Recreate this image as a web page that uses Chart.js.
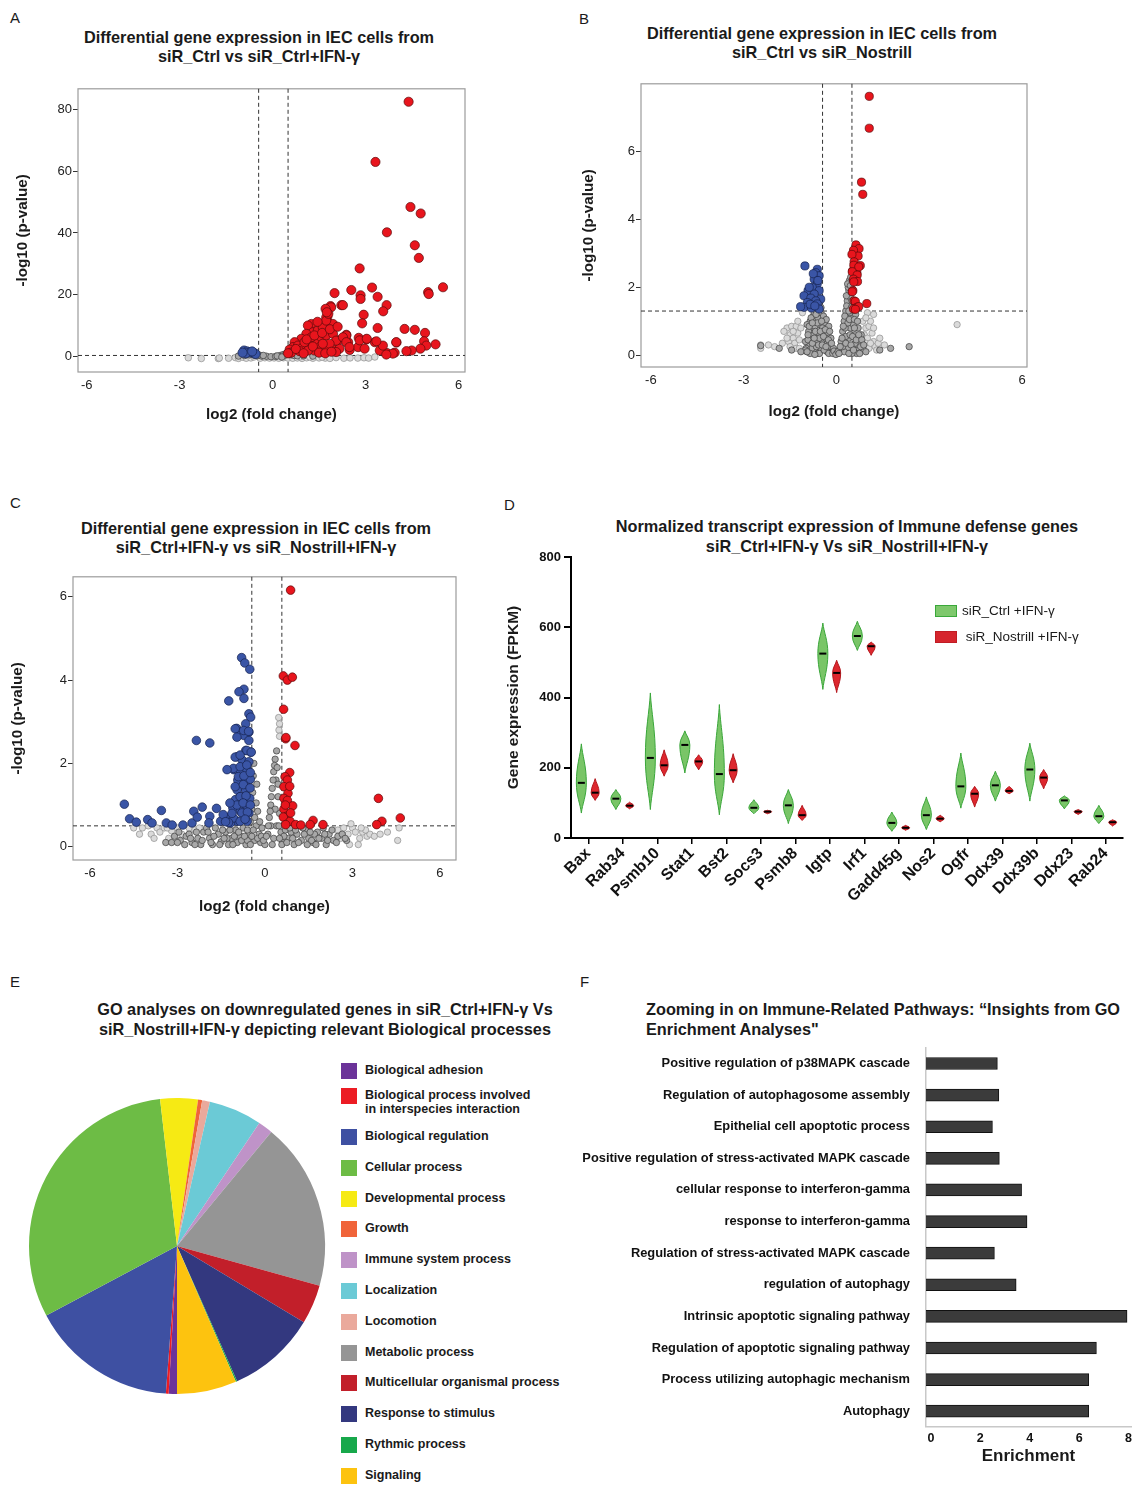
<!DOCTYPE html>
<html>
<head>
<meta charset="utf-8">
<script src="https://cdn.jsdelivr.net/npm/chart.js@4.4.0/dist/chart.umd.min.js"></script>
<style>
body { margin: 0; background: #fff; font-family: "Liberation Sans", Arial, sans-serif; color: #1a1a1a; }
#page { position: relative; width: 1137px; height: 1485px; overflow: hidden; }
canvas { position: absolute; }
.letter { position: absolute; font-size: 15px; }
.ttl { position: absolute; width: 560px; text-align: center; font-weight: bold; font-size: 16.3px; line-height: 19px; }
.big { line-height: 19.5px; }
.leg { position: absolute; font-size: 13.5px; display: flex; align-items: center; white-space: nowrap; }
.sw { display: inline-block; width: 20px; height: 10px; margin-right: 5px; border: 1.5px solid; }
.go { position: absolute; left: 341px; font-weight: bold; font-size: 12.5px; line-height: 14px; }
.go i { position: absolute; left: 0; top: 0; width: 16px; height: 16px; }
.go span { position: absolute; left: 24px; top: 0; white-space: pre; }
</style>
</head>
<body>
<div id="page">
  <div class="letter" style="left:10px;top:9px">A</div>
  <div class="letter" style="left:579px;top:10px">B</div>
  <div class="letter" style="left:10px;top:494px">C</div>
  <div class="letter" style="left:504px;top:496px">D</div>
  <div class="letter" style="left:10px;top:973px">E</div>
  <div class="letter" style="left:580px;top:973px">F</div>

  <div class="ttl" style="left:-21px;top:28px">Differential gene expression in IEC cells from<br>siR_Ctrl vs siR_Ctrl+IFN-γ</div>
  <div class="ttl" style="left:542px;top:24px">Differential gene expression in IEC cells from<br>siR_Ctrl vs siR_Nostrill</div>
  <div class="ttl" style="left:-24px;top:519px">Differential gene expression in IEC cells from<br>siR_Ctrl+IFN-γ vs siR_Nostrill+IFN-γ</div>
  <div class="ttl big" style="left:567px;top:517px">Normalized transcript expression of Immune defense genes<br>siR_Ctrl+IFN-γ Vs siR_Nostrill+IFN-γ</div>
  <div class="ttl big" style="left:45px;top:1000px">GO analyses on downregulated genes in siR_Ctrl+IFN-γ Vs<br>siR_Nostrill+IFN-γ depicting relevant Biological processes</div>
  <div class="ttl big" style="left:646px;top:1000px;text-align:left;width:490px">Zooming in on Immune-Related Pathways: “Insights from GO<br>Enrichment Analyses"</div>

  <canvas id="volA" width="480" height="350" style="left:0;top:80px"></canvas>
  <canvas id="volB" width="470" height="355" style="left:570px;top:75px"></canvas>
  <canvas id="volC" width="470" height="362" style="left:0;top:568px"></canvas>
  <canvas id="violin" width="637" height="380" style="left:500px;top:545px"></canvas>
  <canvas id="pie" width="310" height="310" style="left:22px;top:1091px"></canvas>
  <canvas id="bars" width="562" height="456" style="left:575px;top:1024px"></canvas>

  <div class="leg" style="left:935px;top:603px"><i class="sw" style="background:#7ec86c;border-color:#3aa83a"></i>siR_Ctrl +IFN-γ</div>
  <div class="leg" style="left:935px;top:629px"><i class="sw" style="background:#d6252d;border-color:#c01c24"></i>&nbsp;siR_Nostrill +IFN-γ</div>
  <div id="goLegend"></div>
</div>

<script>
// ---------- volcano plots ----------
const volcanoXTicks = [-6, -3, 0, 3, 6];
const aYTicks = [0, 20, 40, 60, 80];
const bYTicks = [0, 2, 4, 6];
const cYTicks = [0, 2, 4, 6];

// A: siR_Ctrl vs siR_Ctrl+IFN-γ
const aUp = [[4.39,82.5],[3.32,63.0],[4.45,48.4],[4.78,46.3],[3.69,40.2],[4.59,36.0],[4.72,31.9],[2.81,28.5],[5.50,22.4],[5.02,20.8],[5.04,20.2],[3.21,22.3],[2.54,21.5],[2.84,19.8],[2.84,18.6],[2.0,20.5],[3.39,19.3],[3.68,16.6],[3.57,14.6],[2.94,13.5],[2.22,16.6],[2.27,16.6],[1.87,16.3],[1.89,15.9],[1.71,15.4],[1.77,12.9],[2.89,10.7],[3.39,9.2],[4.26,8.9],[4.59,8.6],[4.92,7.6],[4.0,4.5],[4.89,4.9],[5.26,3.9],[4.96,3.5],[4.77,2.5],[4.49,1.9],[4.32,1.7],[3.69,1.1],[3.94,1.2],[3.46,1.9],[3.3,4.6],[3.03,5.5],[2.78,6.0],[2.38,7.0],[2.12,5.2],[2.0,2.1],[2.44,4.6],[2.49,2.1],[2.76,3.0],[2.81,5.2],[3.88,0.9],[3.67,0.6],[2.97,2.5],[2.16,2.5],[2.05,1.4],[2.38,6.8],[3.56,3.5],[3.35,4.9],[3.04,5.7],[3.99,4.6],
  [1.73,12.6],[1.79,11.0],[1.79,9.5],[1.95,10.5],[1.25,10.5],[1.14,10.0],[1.30,7.8],[1.09,7.3],[0.93,5.7],[0.71,4.6],[0.66,3.0],[0.55,2.2],[0.82,3.5],[0.98,3.0],[1.19,4.1],[1.41,5.1],[1.57,6.2],[1.73,6.8],[1.95,7.3],[2.05,5.1],[2.27,6.2],[2.38,4.6],[2.48,3.0],[1.52,3.0],[1.35,1.9],[1.14,1.9],[0.87,1.7],[1.73,2.2],[1.84,4.1],[1.62,4.1],[1.03,4.6],[1.25,6.2],[1.46,8.4],[1.62,9.4],[1.73,11.6],[1.8,13.8],[1.75,14.3],[1.45,11.2],[0.6,1.2],[0.75,2.4],[1.0,1.0],[1.3,3.2],[1.5,1.2],[1.7,1.0],[1.9,1.5],[0.5,1.0],[1.1,5.5],[1.35,6.8],[1.6,7.6],[1.85,8.8],[2.1,9.6]];
const aDown = [[-0.92,1.9],[-0.82,1.6],[-0.72,1.3],[-0.6,1.1],[-0.86,1.0],[-0.55,0.8],[-0.97,1.2],[-0.66,1.6]];
const aMid = [[-0.9,0.3],[-0.75,0.5],[-0.6,0.4],[-0.5,0.2],[-0.35,0.1],[-0.2,0.05],[-0.05,-0.1],[0.1,0.0],[0.25,0.3],[0.35,0.6],[0.45,0.9],[0.55,1.2],[0.6,0.5],[0.7,0.3],[0.8,0.2],[-0.45,0.5],[-0.3,0.3],[0.15,0.15],[0.4,0.4],[0.5,0.7],[1.0,0.2],[0.3,-0.2],[-1.1,0.1],[1.3,0.1]];
const aLight = [[-2.72,-0.45],[-2.3,-0.7],[-1.75,-0.7],[-1.72,-0.55],[-1.42,-0.6],[-1.2,-0.4],[-1.1,-0.65],[-0.95,-0.3],[-0.85,-0.6],[-0.7,-0.5],[-0.6,-0.2],[-0.4,-0.6],[-0.25,-0.45],[-0.1,-0.55],[0.05,-0.5],[0.2,-0.6],[0.35,-0.45],[0.5,-0.55],[0.65,-0.6],[0.8,-0.5],[0.95,-0.65],[1.1,-0.45],[1.3,-0.6],[1.5,-0.5],[1.7,-0.55],[1.85,-0.65],[2.05,-0.4],[2.3,-0.6],[2.5,-0.5],[2.75,-0.55],[2.95,-0.45],[3.1,-0.55],[3.3,-0.2],[1.2,-0.2],[0.9,-0.1],[1.6,-0.25]];

// B: siR_Ctrl vs siR_Nostrill
const bUp = [[1.06,7.63],[1.06,6.69],[0.81,5.10],[0.85,4.74],[0.63,3.25],[0.73,3.14],[0.55,3.09],[0.70,2.92],[0.50,2.97],[0.57,2.75],[0.77,2.64],[0.52,2.48],[0.66,2.43],[0.56,2.65],[0.72,2.60],[0.51,2.46],[0.67,2.36],[0.55,2.24],[0.68,2.17],[0.56,2.16],[0.53,1.90],[0.51,1.87],[0.57,1.60],[0.61,1.58],[0.98,1.52],[0.66,1.41],[0.72,1.43],[0.55,1.36],[0.61,1.35]];
const bDown = [[-1.02,2.63],[-0.62,2.53],[-0.67,2.43],[-0.56,2.34],[-0.72,2.24],[-0.62,2.11],[-0.78,1.99],[-0.92,1.90],[-0.56,1.90],[-0.72,1.80],[-1.05,1.75],[-0.83,1.68],[-0.51,1.65],[-0.67,1.60],[-0.94,1.55],[-0.62,1.51],[-1.05,1.41],[-0.81,1.39],[-0.56,1.36],[-1.16,1.43],[-0.88,2.0],[-0.75,2.4],[-0.6,2.2],[-0.85,1.5],[-0.7,1.45]];
const bMid = [[-0.95,0.1],[-0.9,0.3],[-0.85,0.55],[-0.8,0.8],[-0.85,1.0],[-0.75,1.15],[-0.7,0.15],[-0.65,0.4],[-0.6,0.65],[-0.55,0.9],[-0.6,1.1],[-0.5,1.25],[-0.5,0.2],[-0.45,0.45],[-0.4,0.7],[-0.38,0.95],[-0.42,1.15],[-0.3,0.1],[-0.3,0.35],[-0.28,0.6],[-0.25,0.85],[-0.2,0.25],[-0.18,0.5],[-0.15,0.1],[-0.1,0.2],[-0.75,0.6],[-0.7,0.85],[-0.8,0.2],[-0.9,0.7],[-0.65,0.25],[-0.55,0.5],[-0.35,0.5],[-0.45,0.8],[-0.33,1.05],[-0.6,0.05],[-0.85,0.05],[-1.0,0.4],[-0.95,0.9],[-0.72,1.25],[-0.55,0.05],[-0.4,0.15],[-0.25,0.05],
  [-0.98,0.2],[-0.92,0.45],[-0.88,0.85],[-0.82,1.1],[-0.78,0.35],[-0.72,0.5],[-0.68,0.7],[-0.62,0.95],[-0.58,0.3],[-0.52,0.7],[-0.48,1.0],[-0.46,0.3],[-0.42,0.55],[-0.36,0.75],[-0.34,0.25],[-0.26,0.45],[-0.22,0.7],[-0.16,0.35],[-0.12,0.05],[-0.08,0.12],[-0.5,1.4],[-0.66,1.2],[-0.78,0.95],[-0.92,0.6],[-1.0,0.15],[-0.7,0.02],
  [0.1,0.15],[0.15,0.4],[0.2,0.7],[0.25,1.0],[0.3,1.3],[0.35,1.6],[0.4,1.9],[0.42,2.2],[0.38,2.0],[0.33,1.45],[0.45,1.7],[0.48,1.4],[0.5,1.1],[0.45,0.8],[0.4,0.5],[0.35,0.2],[0.55,0.3],[0.6,0.6],[0.55,0.9],[0.62,1.2],[0.7,0.15],[0.75,0.4],[0.7,0.8],[0.8,0.6],[0.85,0.2],[0.65,0.05],[0.25,0.1],[0.3,0.55],[0.5,0.05],[0.2,0.25],[0.28,0.8],[0.43,1.25],[0.37,0.95],[0.5,1.6],[0.52,1.95],[0.46,2.3],[0.3,0.35],[0.6,0.35],[0.02,0.05],[-0.02,0.02],[0.05,0.1],
  [0.08,0.05],[0.12,0.25],[0.18,0.5],[0.22,0.85],[0.27,1.15],[0.32,1.75],[0.36,2.1],[0.4,1.3],[0.42,1.05],[0.44,0.6],[0.47,0.3],[0.52,0.55],[0.58,0.8],[0.58,1.05],[0.64,0.45],[0.68,1.0],[0.72,0.6],[0.78,0.25],[0.82,0.45],[0.88,0.3],[0.4,0.05],[0.55,0.15],[0.75,0.05],[0.48,1.85],[0.45,2.05],
  [-2.45,0.28],[-1.85,0.2],[-1.45,0.15],[-1.15,0.1],[1.4,0.15],[1.75,0.2],[2.35,0.25],[-0.95,0.1],[0.95,0.1]];
const bLight = [[-2.45,0.3],[-2.45,0.2],[-2.2,0.3],[-1.6,0.8],[-1.45,0.85],[-1.3,0.85],[-1.5,0.6],[-1.7,0.7],[-1.55,0.4],[-1.4,0.5],[-1.25,0.65],[-1.35,0.35],[-1.2,0.45],[-1.5,0.25],[-1.3,0.2],[-1.1,1.25],[-1.15,0.8],[0.95,0.8],[1.05,0.85],[0.9,0.6],[1.0,0.5],[1.15,0.65],[0.95,0.35],[1.2,0.4],[1.05,0.2],[1.25,0.25],[1.35,0.35],[1.2,1.2],[1.0,1.25],[3.9,0.9],[0.85,1.0],[1.3,0.15],
  [-1.25,1.0],[-1.4,0.7],[-1.6,0.5],[-1.75,0.35],[-1.2,0.2],[1.1,1.0],[1.2,0.8],[1.4,0.5],[1.1,0.35],[0.95,1.1],[1.55,0.3],[-2.0,0.25]];

// C: siR_Ctrl+IFN-γ vs siR_Nostrill+IFN-γ
const cUp = [[0.88,6.16],[0.63,4.10],[0.77,4.00],[0.94,4.07],[0.64,3.30],[0.71,2.59],[1.03,2.43],[0.85,1.78],[0.69,1.68],[0.77,1.60],[0.65,1.44],[0.79,1.28],[0.65,1.16],[0.77,1.11],[0.95,0.98],[0.65,0.90],[0.74,0.73],[0.63,0.71],[0.86,0.61],[1.05,0.53],[1.23,0.52],[1.65,0.63],[1.55,0.53],[1.99,0.53],[3.89,1.16],[4.01,0.61],[3.83,0.53],[4.64,0.69],[0.71,0.53],[0.88,0.81],[0.72,2.62],[0.85,1.45],[0.7,1.0]];
const cDown = [[-0.80,4.54],[-0.69,4.41],[-0.52,4.26],[-0.72,3.78],[-0.89,3.72],[-0.72,3.56],[-1.24,3.50],[-0.55,3.19],[-0.49,3.11],[-0.66,2.95],[-0.97,2.84],[-0.81,2.75],[-0.55,2.75],[-0.72,2.67],[-0.55,2.55],[-2.35,2.55],[-1.89,2.49],[-0.66,2.31],[-0.49,2.27],[-0.95,2.16],[-0.78,2.08],[-0.55,2.04],[-1.07,1.85],[-0.84,1.84],[-0.62,1.86],[-0.93,1.60],[-0.66,1.56],[-0.5,1.62],[-0.95,1.36],[-0.66,1.36],[-0.84,1.20],[-0.52,1.16],[-1.01,1.13],[-0.66,1.01],[-1.10,0.93],[-0.84,0.85],[-0.55,0.81],[-1.18,0.73],[-0.95,0.61],[-0.61,0.61],[-1.18,0.57],[-4.82,1.02],[-4.64,0.67],[-4.41,0.59],[-4.02,0.65],[-3.87,0.57],[-3.55,0.87],[-3.38,0.57],[-3.18,0.52],[-2.81,0.52],[-2.50,0.57],[-2.44,0.85],[-2.32,0.71],[-2.15,0.95],[-1.89,0.73],[-1.92,0.57],[-1.66,0.92],[-1.52,0.61],[-1.43,0.77],[-1.02,2.83],[-0.73,2.79],[-0.56,2.77],[-0.96,2.63],[-1.02,2.15],[-0.85,2.2],[-0.62,2.31],[-0.47,2.27],[-1.08,1.88],[-0.85,1.92],[-0.62,1.96],[-0.91,1.68],[-0.72,1.7],[-0.5,1.78],[-1.02,1.44],[-0.74,1.49],[-0.51,1.41],[-0.85,1.2],[-0.65,1.22],[-0.96,1.0],[-0.75,1.05],[-0.5,1.0],[-0.79,0.81],[-0.6,0.83],[-1.08,0.69],[-0.85,0.61],[-0.68,0.66],[-1.25,0.58],[-1.13,0.8],[-1.3,1.85],[-1.2,1.05],[-1.35,0.6]];
const cMid = [[-3.1,0.25],[-2.9,0.15],[-2.7,0.25],[-2.5,0.1],[-2.3,0.2],[-2.1,0.35],[-1.9,0.2],[-1.8,0.05],[-1.6,0.3],[-1.5,0.12],[-1.35,0.35],[-1.25,0.05],[-1.15,0.2],[-1.0,0.4],[-0.95,0.1],[-0.85,0.25],[-0.75,0.45],[-0.65,0.05],[-0.55,0.3],[-0.5,0.6],[-0.45,0.9],[-0.42,1.3],[-0.4,1.7],[-0.38,2.0],[-0.35,0.15],[-0.3,0.5],[-0.25,0.85],[-0.2,0.3],[-0.15,0.1],[-0.1,0.45],[0.0,0.05],[0.1,0.3],[0.15,0.7],[0.2,1.0],[0.25,1.4],[0.3,1.8],[0.35,2.1],[0.4,2.3],[0.38,1.6],[0.45,1.2],[0.5,0.8],[0.4,0.5],[0.3,0.2],[0.55,0.35],[0.6,0.1],[0.7,0.4],[0.8,0.2],[0.9,0.35],[1.0,0.05],[1.1,0.3],[1.25,0.15],[1.4,0.4],[1.5,0.2],[1.65,0.1],[1.8,0.35],[1.95,0.2],[2.1,0.05],[2.2,0.3],[2.35,0.15],[2.5,0.25],[2.8,0.15],[-2.2,0.05],[-2.0,0.45],[-1.7,0.45],[-1.3,0.2],[-0.8,0.15],[-0.6,0.15],[0.25,0.05],[0.65,0.25],[1.3,0.45],[2.0,0.45],[1.7,0.3],[-1.05,0.25],[-3.4,0.1],[0.2,0.5],[0.35,0.9],
  [-2.95,0.35],[-2.75,0.05],[-2.6,0.3],[-2.4,0.05],[-2.35,0.35],[-2.15,0.15],[-1.95,0.35],[-1.85,0.1],[-1.75,0.25],[-1.55,0.05],[-1.45,0.4],[-1.4,0.2],[-1.2,0.4],[-1.1,0.05],[-0.9,0.35],[-0.7,0.25],[-0.6,0.4],[-0.5,0.05],[-0.45,0.25],[-0.4,0.4],[-0.35,0.7],[-0.3,1.05],[-0.28,1.5],[-0.25,0.2],[-0.18,0.6],[-0.12,0.25],[-0.05,0.15],[0.05,0.25],[0.12,0.5],[0.18,0.85],[0.22,1.2],[0.28,1.6],[0.33,1.95],[0.42,1.9],[0.45,1.5],[0.48,0.5],[0.5,0.2],[0.58,0.05],[0.75,0.1],[0.85,0.45],[0.95,0.2],[1.05,0.4],[1.15,0.1],[1.35,0.3],[1.45,0.05],[1.55,0.35],[1.6,0.15],[1.75,0.05],[1.85,0.2],[2.05,0.3],[2.15,0.15],[2.3,0.4],[2.45,0.1],[2.65,0.3],[2.75,0.2],[-3.2,0.1],[-3.0,0.1],[-2.55,0.2]];
const cLight = [[-4.2,0.45],[-4.0,0.5],[-3.9,0.3],[-3.7,0.45],[-3.6,0.35],[-3.45,0.45],[-3.3,0.2],[-3.2,0.38],[-3.0,0.45],[-2.85,0.3],[-2.6,0.45],[-2.4,0.4],[2.5,0.4],[2.7,0.45],[2.85,0.3],[3.0,0.45],[3.1,0.35],[3.25,0.2],[3.35,0.35],[3.5,0.25],[3.6,0.3],[3.75,0.25],[4.2,0.35],[4.6,0.45],[4.55,0.15],[3.45,0.4],[0.48,2.8],[0.5,2.95],[0.47,3.1],[0.5,2.65],[2.95,0.55],[2.6,0.2],
  [-4.5,0.45],[-4.3,0.3],[-3.8,0.2],[-3.35,0.45],[3.2,0.05],[3.95,0.3],[3.3,0.45],[2.9,0.05],[-2.25,0.45]];

// ---------- D: violins ----------
const genes = ['Bax','Rab34','Psmb10','Stat1','Bst2','Socs3','Psmb8','Igtp','Irf1','Gadd45g','Nos2','Ogfr','Ddx39','Ddx39b','Ddx23','Rab24'];
const ctrlMed = [157,112,228,265,182,86,93,525,575,43,65,147,150,195,107,62];
const ctrlMin = [71,81,81,185,66,69,41,423,534,19,24,85,105,105,83,41];
const ctrlMax = [268,138,413,305,380,109,138,612,617,74,117,242,190,270,120,93];
const nosMed = [129,92,207,218,193,75,65,470,546,29,55,126,134,172,75,45];
const nosMin = [107,83,176,194,157,69,50,414,520,22,46,88,126,140,67,34];
const nosMax = [169,102,251,237,240,79,93,506,558,36,65,147,147,195,81,52];
const fpkmTicks = [0, 200, 400, 600, 800];

// ---------- E: GO pie ----------
const goTerms = ['Biological adhesion','Biological process involved\nin interspecies interaction','Biological regulation','Cellular process','Developmental process','Growth','Immune system process','Localization','Locomotion','Metabolic process','Multicellular organismal process','Response to stimulus','Rythmic process','Signaling'];
const goShare = [0.9, 0.3, 16.0, 30.9, 4.1, 0.45, 1.6, 5.8, 0.85, 18.3, 4.3, 9.7, 0.15, 6.5];
const goColors = ['#6b3399','#ec1c24','#3e50a2','#6dbc45','#f6ea14','#f0643a','#bf93c8','#6bcad6','#eaa99c','#959595','#c21f2a','#33387f','#17a84b','#fdc30f'];
const pieOrder = [0,1,2,3,4,5,8,7,6,9,10,11,12,13];

// ---------- F: enrichment ----------
const pathways = ['Positive regulation of p38MAPK cascade','Regulation of autophagosome assembly','Epithelial cell apoptotic process','Positive regulation of stress-activated MAPK cascade','cellular response to interferon-gamma','response to interferon-gamma','Regulation of stress-activated MAPK cascade','regulation of autophagy','Intrinsic apoptotic signaling pathway','Regulation of apoptotic signaling pathway','Process utilizing autophagic mechanism','Autophagy'];
const enrichment = [2.69, 2.75, 2.49, 2.77, 3.67, 3.89, 2.57, 3.45, 7.94, 6.70, 6.39, 6.39];
const enrichTicks = [0, 2, 4, 6, 8];

Chart.defaults.font.family = '"Liberation Sans", Arial, sans-serif';
Chart.defaults.color = '#1a1a1a';

const toXY = arr => arr.map(p => ({ x: p[0], y: p[1] }));
const fixTicks = vals => s => { s.ticks = vals.map(v => ({ value: v })); };

const frame = {
  id: 'frame',
  beforeDatasetsDraw(c) {
    const a = c.chartArea, g = c.ctx;
    g.save();
    g.strokeStyle = '#9c9c9c';
    g.lineWidth = 1.2;
    g.strokeRect(a.left, a.top, a.width, a.height);
    g.restore();
  }
};

const cutoffs = {
  id: 'cutoffs',
  beforeDatasetsDraw(c, args, opts) {
    const { x, y } = c.scales, a = c.chartArea, g = c.ctx;
    g.save();
    g.setLineDash([4, 3]);
    g.strokeStyle = '#333';
    g.lineWidth = 1;
    opts.xs.forEach(v => {
      const p = x.getPixelForValue(v);
      g.beginPath(); g.moveTo(p, a.top); g.lineTo(p, a.bottom); g.stroke();
    });
    const q = y.getPixelForValue(opts.y);
    g.beginPath(); g.moveTo(a.left, q); g.lineTo(a.right, q); g.stroke();
    g.restore();
  }
};

function dots(pts, fill, edge, r) {
  return { data: toXY(pts), backgroundColor: fill, borderColor: edge, borderWidth: 0.7, pointRadius: r };
}

function volcano(id, o) {
  return new Chart(document.getElementById(id), {
    type: 'scatter',
    data: {
      datasets: [
        dots(o.up, '#e8151d', '#5a0a0a', o.r),
        dots(o.down, '#3a55a6', '#16234f', o.r),
        dots(o.mid, '#a8a8a8', '#3c3c3c', o.rg),
        dots(o.light, '#dadada', '#8e8e8e', o.rg)
      ]
    },
    options: {
      responsive: false, animation: false, events: [],
      layout: { padding: { top: o.padTop, right: o.padRight, left: 0, bottom: 0 } },
      plugins: { legend: { display: false }, tooltip: { enabled: false }, cutoffs: { xs: o.cutX, y: o.cutY } },
      scales: {
        x: {
          type: 'linear', min: o.xMin, max: o.xMax,
          afterBuildTicks: fixTicks(volcanoXTicks),
          afterFit: s => { s.height = o.xH; },
          border: { display: false },
          grid: { drawOnChartArea: false, tickLength: 4, color: 'transparent' },
          ticks: { font: { size: 13 }, color: '#222', padding: 2, maxRotation: 0 },
          title: { display: true, text: 'log2 (fold change)', font: { size: 15.2, weight: 'bold' }, padding: { top: 0, bottom: o.xTitlePad } }
        },
        y: {
          min: o.yMin, max: o.yMax,
          afterBuildTicks: fixTicks(o.yTicks),
          afterFit: s => { s.width = o.yW; },
          border: { display: false },
          grid: { drawOnChartArea: false, tickLength: 5, color: '#333', lineWidth: 1 },
          ticks: { font: { size: 13 }, color: '#222', padding: 1 },
          title: { display: true, text: '-log10 (p-value)', font: { size: 15.2, weight: 'bold' }, padding: { top: o.yTitlePad, bottom: 0 } }
        }
      }
    },
    plugins: [frame, cutoffs]
  });
}

volcano('volA', { up: aUp, down: aDown, mid: aMid, light: aLight, r: 4.6, rg: 3.3,
  xMin: -6.28, xMax: 6.21, yMin: -5.06, yMax: 86.7, yTicks: aYTicks, cutX: [-0.45, 0.5], cutY: 0.3,
  padTop: 7, padRight: 15, yW: 78, xH: 58, yTitlePad: 13.3, xTitlePad: 6 });

volcano('volB', { up: bUp, down: bDown, mid: bMid, light: bLight, r: 4.1, rg: 3.2,
  xMin: -6.32, xMax: 6.16, yMin: -0.35, yMax: 8.0, yTicks: bYTicks, cutX: [-0.45, 0.5], cutY: 1.3,
  padTop: 7, padRight: 13, yW: 71, xH: 63, yTitlePad: 9.3, xTitlePad: 9.5 });

volcano('volC', { up: cUp, down: cDown, mid: cMid, light: cLight, r: 4.3, rg: 3.2,
  xMin: -6.58, xMax: 6.55, yMin: -0.32, yMax: 6.48, yTicks: cYTicks, cutX: [-0.45, 0.58], cutY: 0.5,
  padTop: 7, padRight: 14, yW: 73, xH: 70, yTitlePad: 8.3, xTitlePad: 14.5 });

// violins drawn over invisible floating bars
const violinStyle = [
  { fill: '#79c567', edge: '#3aa63a', half: 5, med: ctrlMed },
  { fill: '#dd272e', edge: '#b3161c', half: 4, med: nosMed }
];
const violins = {
  id: 'violins',
  beforeDatasetDraw() { return false; },
  afterDatasetsDraw(c) {
    const g = c.ctx, y = c.scales.y;
    c.data.datasets.forEach((ds, di) => {
      const st = violinStyle[di];
      c.getDatasetMeta(di).data.forEach((el, i) => {
        const x = el.x, top = Math.min(el.y, el.base), bot = Math.max(el.y, el.base);
        const m = y.getPixelForValue(st.med[i]), w = st.half;
        g.save();
        g.beginPath();
        g.moveTo(x, bot);
        g.bezierCurveTo(x - w * 0.2, bot - (bot - m) * 0.3, x - w, m + (bot - m) * 0.45, x - w, m);
        g.bezierCurveTo(x - w, m - (m - top) * 0.45, x - w * 0.2, top + (m - top) * 0.3, x, top);
        g.bezierCurveTo(x + w * 0.2, top + (m - top) * 0.3, x + w, m - (m - top) * 0.45, x + w, m);
        g.bezierCurveTo(x + w, m + (bot - m) * 0.45, x + w * 0.2, bot - (bot - m) * 0.3, x, bot);
        g.closePath();
        g.fillStyle = st.fill; g.fill();
        g.strokeStyle = st.edge; g.lineWidth = 1; g.stroke();
        g.beginPath(); g.moveTo(x - 3.5, m); g.lineTo(x + 3.5, m);
        g.strokeStyle = '#000'; g.lineWidth = 2; g.stroke();
        g.restore();
      });
    });
  }
};

new Chart(document.getElementById('violin'), {
  type: 'bar',
  data: {
    labels: genes,
    datasets: [
      { label: 'siR_Ctrl +IFN-γ', data: genes.map((g, i) => [ctrlMin[i], ctrlMax[i]]), backgroundColor: '#79c567' },
      { label: 'siR_Nostrill +IFN-γ', data: genes.map((g, i) => [nosMin[i], nosMax[i]]), backgroundColor: '#dd272e' }
    ]
  },
  options: {
    responsive: false, animation: false, events: [],
    layout: { padding: { top: 12, right: 14, left: 0, bottom: 0 } },
    plugins: { legend: { display: false }, tooltip: { enabled: false } },
    scales: {
      x: {
        afterFit: s => { s.height = 87; },
        border: { color: '#000', width: 2 },
        grid: { drawOnChartArea: false, offset: false, tickLength: 6, color: '#000', lineWidth: 1.5 },
        ticks: { font: { size: 16, weight: 'bold' }, color: '#111', minRotation: 45, maxRotation: 45, autoSkip: false, padding: 0 }
      },
      y: {
        min: 0, max: 800,
        afterBuildTicks: fixTicks(fpkmTicks),
        afterFit: s => { s.width = 71; },
        border: { color: '#000', width: 2 },
        grid: { drawOnChartArea: false, tickLength: 7, color: '#000', lineWidth: 2 },
        ticks: { font: { size: 13, weight: 'bold' }, color: '#111', padding: 3 },
        title: { display: true, text: 'Gene expression (FPKM)', font: { size: 15.5, weight: 'bold' }, padding: { top: 4, bottom: 0 } }
      }
    }
  },
  plugins: [violins]
});

// pie
new Chart(document.getElementById('pie'), {
  type: 'pie',
  data: {
    labels: pieOrder.map(i => goTerms[i]),
    datasets: [{ data: pieOrder.map(i => goShare[i]), backgroundColor: pieOrder.map(i => goColors[i]), borderWidth: 0 }]
  },
  options: {
    responsive: false, animation: false, events: [],
    rotation: 180, radius: 148,
    layout: { padding: 0 },
    plugins: { legend: { display: false }, tooltip: { enabled: false } }
  }
});

// pie legend
const goLegend = document.getElementById('goLegend');
goTerms.forEach((t, i) => {
  const top = i === 0 ? 1063 : i === 1 ? 1088 : 1129 + (i - 2) * 30.8;
  const d = document.createElement('div');
  d.className = 'go';
  d.style.top = top + 'px';
  d.innerHTML = '<i style="background:' + goColors[i] + '"></i><span>' + t + '</span>';
  goLegend.appendChild(d);
});

// enrichment bars
new Chart(document.getElementById('bars'), {
  type: 'bar',
  data: {
    labels: pathways,
    datasets: [{ data: enrichment, base: -0.2, backgroundColor: '#3b3b3b', borderColor: '#111', borderWidth: 1, barThickness: 12 }]
  },
  options: {
    indexAxis: 'y',
    responsive: false, animation: false, events: [],
    layout: { padding: { top: 0, right: 6, left: 0, bottom: 0 } },
    plugins: { legend: { display: false }, tooltip: { enabled: false } },
    scales: {
      x: {
        min: -0.2, max: 8.1,
        afterBuildTicks: fixTicks(enrichTicks),
        afterFit: s => { s.height = 53; },
        border: { color: '#c8c8c8', width: 1.5 },
        grid: { display: false, drawTicks: false, tickLength: 0 },
        ticks: { font: { size: 12.5, weight: 'bold' }, color: '#111', padding: 4 },
        title: { display: true, text: 'Enrichment', font: { size: 17, weight: 'bold' }, padding: { top: 0, bottom: 13.8 } }
      },
      y: {
        afterFit: s => { s.width = 351; },
        border: { color: '#c8c8c8', width: 1.5 },
        grid: { display: false, drawTicks: false, tickLength: 0 },
        ticks: { font: { size: 12.85, weight: 'bold' }, color: '#111', padding: 16, autoSkip: false }
      }
    }
  }
});
</script>
</body>
</html>
